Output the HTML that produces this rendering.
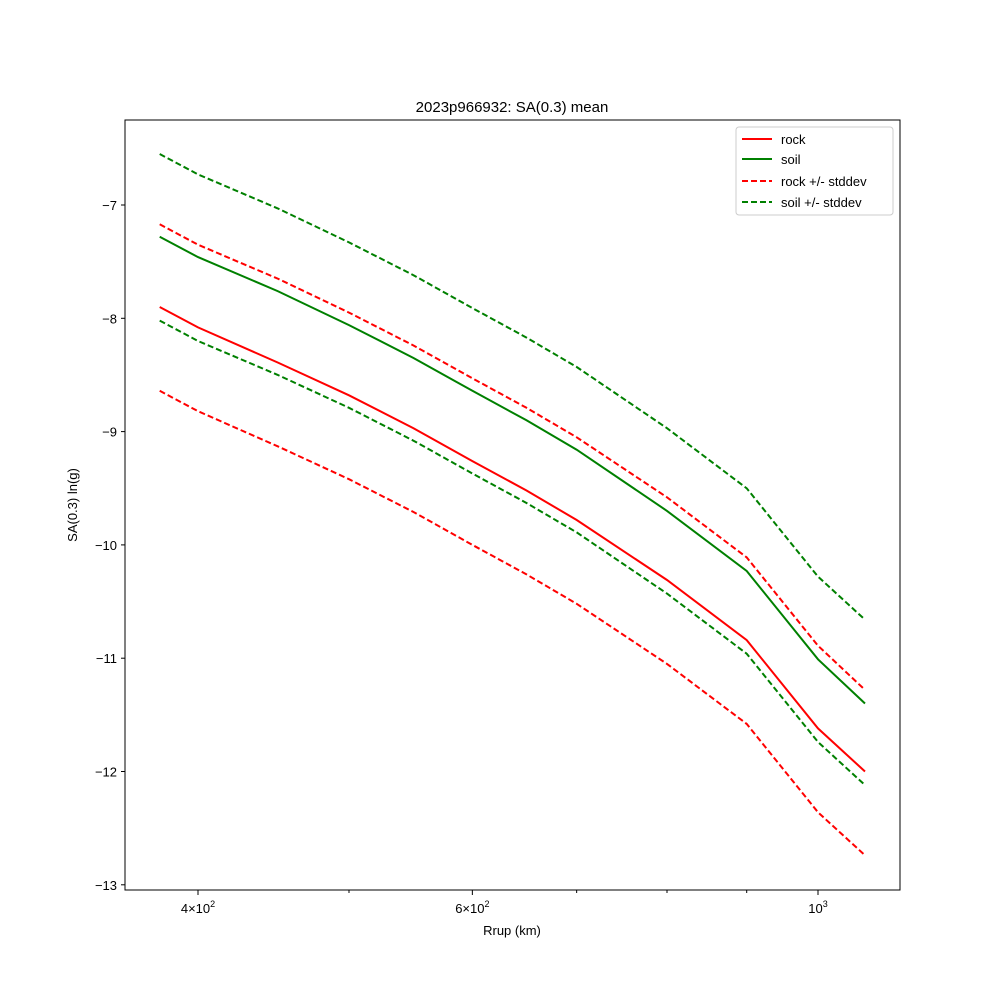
<!DOCTYPE html>
<html><head><meta charset="utf-8"><style>
body{margin:0;background:#fff}
svg{font-family:"Liberation Sans","DejaVu Sans",sans-serif}
</style></head><body>
<svg id="chart" width="1000" height="1000" xmlns="http://www.w3.org/2000/svg">
<rect width="1000" height="1000" fill="#fff"/>
<text x="512" y="112" font-size="15" text-anchor="middle">2023p966932: SA(0.3) mean</text>
<text x="512" y="935" font-size="13" text-anchor="middle">Rrup (km)</text>
<text transform="translate(77,505) rotate(-90)" font-size="13" text-anchor="middle">SA(0.3) ln(g)</text>
<g id="series"></g>
<g id="axes"></g>
<rect x="125" y="120" width="775" height="770" fill="none" stroke="#000" stroke-width="1"/>
<g>
<rect x="736" y="127" width="157" height="88" fill="#fff" stroke="#ccc" rx="3"/>
<g><line x1="742" y1="139" x2="772" y2="139" stroke="red" stroke-width="2"/><text x="781" y="144" font-size="13">rock</text></g>
<g><line x1="742" y1="159" x2="772" y2="159" stroke="green" stroke-width="2"/><text x="781" y="164" font-size="13">soil</text></g>
<g><line x1="742" y1="181" x2="772" y2="181" stroke="red" stroke-width="2" stroke-dasharray="6,3"/><text x="781" y="186" font-size="13">rock +/- stddev</text></g>
<g><line x1="742" y1="202" x2="772" y2="202" stroke="green" stroke-width="2" stroke-dasharray="6,3"/><text x="781" y="207" font-size="13">soil +/- stddev</text></g>
</g>
</svg>
<script>
const rrup = [378,400,450,500,550,600,650,700,800,900,1000,1072];
const rock = [-7.90,-8.08,-8.39,-8.68,-8.97,-9.26,-9.52,-9.78,-10.31,-10.84,-11.62,-12.00];
const soil = [-7.28,-7.46,-7.76,-8.06,-8.35,-8.64,-8.90,-9.16,-9.70,-10.23,-11.01,-11.40];
const rockPlus = [-7.17,-7.35,-7.65,-7.95,-8.24,-8.53,-8.79,-9.05,-9.58,-10.11,-10.89,-11.28];
const rockMinus = [-8.64,-8.82,-9.13,-9.42,-9.71,-10.00,-10.26,-10.52,-11.05,-11.58,-12.36,-12.74];
const soilPlus = [-6.55,-6.73,-7.03,-7.33,-7.62,-7.91,-8.17,-8.43,-8.97,-9.50,-10.28,-10.66];
const soilMinus = [-8.02,-8.20,-8.50,-8.79,-9.08,-9.37,-9.63,-9.89,-10.43,-10.96,-11.74,-12.12];
const yTicks = [-7,-8,-9,-10,-11,-12,-13];
const xMajorTicks = [400,600,1000];
const xMajorLabels = [["4","2"],["6","2"],["","3"]];
const xMinorTicks = [500,700,800,900];

const NS="http://www.w3.org/2000/svg";
function X(v){return 198+(Math.log10(v)-Math.log10(400))*1558;}
function Y(v){return 205+(-7-v)*113.3;}
function mk(tag,attrs,parent){const e=document.createElementNS(NS,tag);for(const k in attrs)e.setAttribute(k,attrs[k]);parent.appendChild(e);return e;}
const sg=document.getElementById('series'), ax=document.getElementById('axes');
const defs=[[rock,'red',null,'rock-line'],[soil,'green',null,'soil-line'],[rockPlus,'red','6,3','rock-plus-stddev-line'],[rockMinus,'red','6,3','rock-minus-stddev-line'],[soilPlus,'green','6,3','soil-plus-stddev-line'],[soilMinus,'green','6,3','soil-minus-stddev-line']];
defs.forEach(d=>{
  const pts=rrup.map((r,i)=>X(r).toFixed(1)+','+Y(d[0][i]).toFixed(1)).join(' ');
  const p=mk('polyline',{points:pts,fill:'none',stroke:d[1],'stroke-width':2},sg);
  if(d[2])p.setAttribute('stroke-dasharray',d[2]);
  
  
});
yTicks.forEach(t=>{
  const y=Y(t);
  const l=mk('line',{x1:121,x2:125,y1:y,y2:y,stroke:'#000'},ax);
  
  
  const tx=mk('text',{x:117,y:y+5,'font-size':13,'text-anchor':'end'},ax);
  tx.textContent='\u2212'+Math.abs(t);
  
  
});
xMajorTicks.forEach((t,i)=>{
  const x=X(t);
  const l=mk('line',{x1:x,x2:x,y1:890,y2:895,stroke:'#000'},ax);
  
  
  const tx=mk('text',{x:x,y:913,'font-size':13,'text-anchor':'middle'},ax);
  const lab=xMajorLabels[i];
  tx.textContent=(lab[0]?lab[0]+'\u00d7':'')+'10';
  const sp=mk('tspan',{dy:-6,'font-size':9},tx);
  sp.textContent=lab[1];
  
  
});
xMinorTicks.forEach(t=>{
  const x=X(t);
  const l=mk('line',{x1:x,x2:x,y1:890,y2:893,stroke:'#000'},ax);
  
  
});
</script>
</body></html>
